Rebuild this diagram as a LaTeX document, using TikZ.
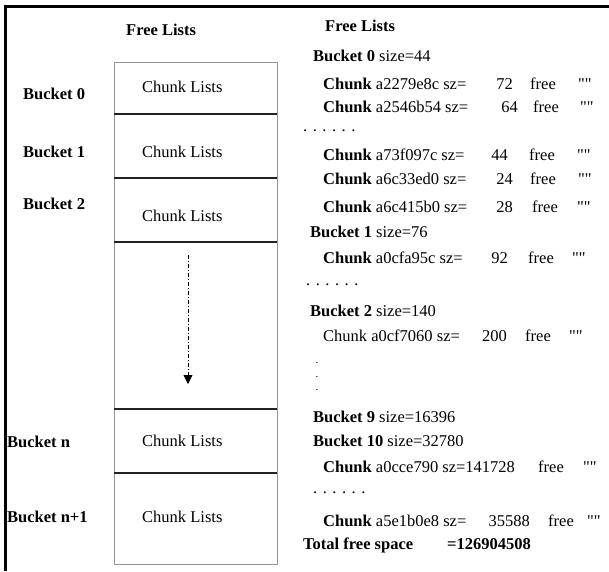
\documentclass[tikz,border=0pt]{standalone}
\usepackage{fontspec}
\setmainfont{Liberation Serif}
\newfontfamily\qfont{Liberation Serif}[Ligatures=TeXOff]
\usetikzlibrary{arrows.meta,positioning}
\definecolor{slotgray}{RGB}{150,150,150}
\definecolor{divblack}{RGB}{35,35,35}
\tikzset{
  txt/.style={inner sep=0pt, text height=11pt, text depth=3pt,
              font=\fontsize{16.5}{18}\selectfont},
  btxt/.style={txt, font=\fontsize{16.5}{18}\selectfont\bfseries},
  dotcol/.style={inner sep=0pt, align=center,
                 font=\fontsize{11}{13.5}\selectfont},
  frm/.style={black, line width=2.2pt},
  slot/.style={draw=slotgray, line width=0.9pt},
  divl/.style={divblack, line width=1.1pt},
  flowarr/.style={-{Triangle[width=9pt,length=9pt]}, black, line width=0.8pt,
                  dash pattern=on 4pt off 2pt on 1pt off 2pt},
}
\newcommand{\qq}{{\qfont ""}}
% one chunk line of the dump: name, y, word, address, size, size end, free, quotes
\newcommand{\chunkrow}[8]{%
  \node[txt, anchor=west] (#1) at (323,#2) {#3 #4};
  \node[txt, anchor=east] (#1-sz) at (#6,#2) {#5};
  \node[txt, anchor=west] (#1-st) at (#7,#2) {free};
  \node[txt, anchor=west] (#1-q) at (#8,#2) {\qq};}

\begin{document}
\begin{tikzpicture}[x=1pt, y=-1pt]
  \useasboundingbox (0,0) rectangle (609,571);
  \draw[frm] (5.5,571) -- (5.5,6.5) -- (609,6.5);

  % bucket array
  \node[btxt, anchor=west] (lists-title) at (126,31) {Free Lists};
  \draw[slot] (114,62) rectangle (277,564);
  \foreach \yy in {114,178,242,409,473}
    \draw[divl] (114,\yy) -- (277,\yy);
  \foreach \nm/\yy in {0/88,1/153,2/217,n/442,n1/518}
    \node[txt, anchor=west] (cl-\nm) at (142,\yy) {Chunk Lists};
  \node[btxt, anchor=west] (bk-0) at (23,95) {Bucket 0};
  \node[btxt, anchor=west] (bk-1) at (23,153) {Bucket 1};
  \node[btxt, anchor=west] (bk-2) at (23,205) {Bucket 2};
  \node[btxt, anchor=west] (bk-n) at (7,443) {Bucket n};
  \node[btxt, anchor=west] (bk-n1) at (7,518) {Bucket n+1};
  \coordinate (gap-top) at (188,255);
  \coordinate (gap-end) at (188,384);
  \draw[flowarr] (gap-top) -- (gap-end);

  % dump of the lists
  \node[btxt, anchor=west] (dump-title) at (325,27) {Free Lists};
  \node[txt, anchor=west] (db-0) at (313,57) {\textbf{Bucket 0} size=44};
  \chunkrow{c1}{85}{\textbf{Chunk}}{a2279e8c sz=}{72}{513}{530}{578}
  \chunkrow{c2}{108}{\textbf{Chunk}}{a2546b54 sz=}{64}{518}{533}{580}
  \node[txt, anchor=west] (dots-1) at (303,127) {. . . . . .};
  \chunkrow{c3}{156}{\textbf{Chunk}}{a73f097c sz=}{44}{508}{529}{577}
  \chunkrow{c4}{180}{\textbf{Chunk}}{a6c33ed0 sz=}{24}{513}{530}{578}
  \chunkrow{c5}{208}{\textbf{Chunk}}{a6c415b0 sz=}{28}{513}{532}{577}
  \node[txt, anchor=west] (db-1) at (310,233) {\textbf{Bucket 1} size=76};
  \chunkrow{c6}{259}{\textbf{Chunk}}{a0cfa95c sz=}{92}{508}{528}{572}
  \node[txt, anchor=west] (dots-2) at (306,281) {. . . . . .};
  \node[txt, anchor=west] (db-2) at (310,312) {\textbf{Bucket 2} size=140};
  \chunkrow{c7}{337}{Chunk}{a0cf7060 sz=}{200}{507}{525}{569}
  \node[dotcol, anchor=south] (vdots) at (317,391) {.\\.\\.};
  \node[txt, anchor=west] (db-9) at (313,418) {\textbf{Bucket 9} size=16396};
  \node[txt, anchor=west] (db-10) at (313,442) {\textbf{Bucket 10} size=32780};
  \chunkrow{c8}{468}{\textbf{Chunk}}{a0cce790 sz=141728}{}{520}{538}{583}
  \node[txt, anchor=west] (dots-3) at (313,489) {. . . . . .};
  \chunkrow{c9}{522}{\textbf{Chunk}}{a5e1b0e8 sz=}{35588}{530}{548}{587}
  \node[btxt, anchor=west] (total) at (303,545) {Total free space};
  \node[btxt, anchor=west] (total-val) at (447,545) {=126904508};
\end{tikzpicture}
\end{document}
